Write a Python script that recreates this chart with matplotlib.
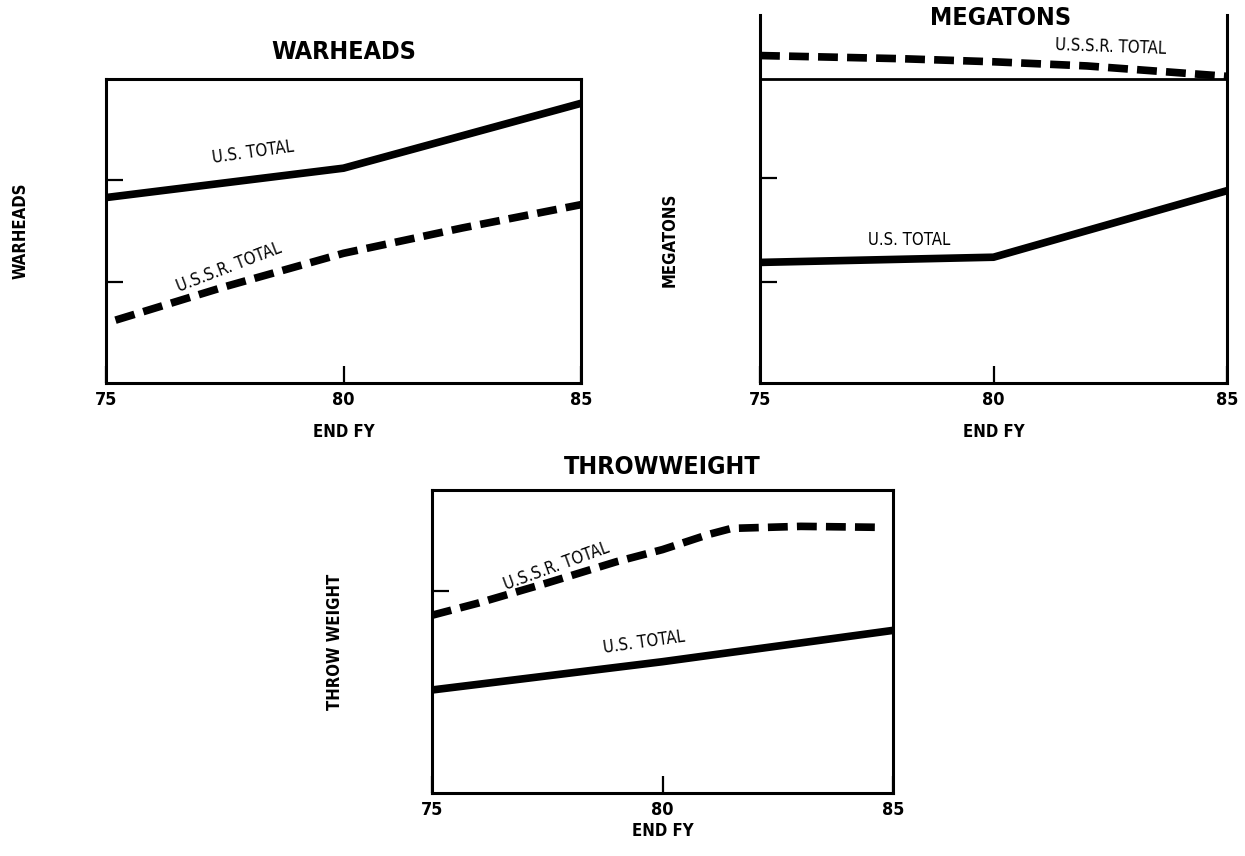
import matplotlib
matplotlib.use('Agg')
import numpy as np
import matplotlib.pyplot as plt

plt.rcParams['font.family'] = ['DejaVu Sans']
plt.rcParams['font.stretch'] = 'condensed'
plt.rcParams['font.weight'] = 'bold'

# end fiscal year
years = [75, 80, 85]

# warheads (relative units, ticks at 1 and 2)
wh_us_x = [75, 80, 85]
wh_us = [1.83, 2.12, 2.76]
wh_ussr_x = [75.2, 77.5, 80, 82.5, 85]
wh_ussr = [0.62, 0.95, 1.28, 1.53, 1.76]

# megatons
mt_us_x = [75, 80, 85]
mt_us = [1.19, 1.24, 1.88]
mt_ussr_x = [75, 78, 80, 82, 83.5, 85]
mt_ussr = [3.18, 3.15, 3.12, 3.08, 3.03, 2.98]
mt_ref = 2.95

# throwweight
tw_us_x = [75, 80, 85]
tw_us = [1.02, 1.30, 1.61]
tw_ussr_x = [75, 76, 77.5, 79, 80, 81, 81.5, 83, 84.8]
tw_ussr = [1.76, 1.88, 2.08, 2.29, 2.41, 2.56, 2.62, 2.64, 2.63]

W, H = 1245, 856
fig = plt.figure(figsize=(W / 100, H / 100), dpi=100)


def px_axes(x0, y0, x1, y1):
    return fig.add_axes([x0 / W, 1 - y1 / H, (x1 - x0) / W, (y1 - y0) / H])


def style(ax, ylim, yticks, ylabel):
    ax.set_xlim(75, 85)
    ax.set_ylim(*ylim)
    ax.set_xticks(years)
    ax.set_xticklabels([str(y) for y in years], fontsize=13, fontweight='bold')
    ax.set_yticks(yticks)
    ax.set_yticklabels([])
    ax.tick_params(axis='both', direction='in', length=12, width=1.6, pad=6)
    for s in ax.spines.values():
        s.set_linewidth(2.2)
    ax.set_xlabel('END FY', fontsize=12, fontweight='bold', labelpad=10)
    ax.set_ylabel(ylabel, fontsize=12, fontweight='bold')


def label(ax, x, y, s, rot):
    ax.text(x, y, s, rotation=rot, fontsize=12, ha='center', va='center',
            fontweight='normal', rotation_mode='anchor')


dash = (2.6, 1.2)
LW = 5.5

# WARHEADS
ax1 = px_axes(106, 79, 581, 383)
ax1.plot(wh_us_x, wh_us, color='black', lw=LW, solid_capstyle='butt', clip_on=False)
ax1.plot(wh_ussr_x, wh_ussr, color='black', lw=LW, dashes=dash, dash_capstyle='butt')
style(ax1, (0, 3), [1, 2], 'WARHEADS')
ax1.text(0.5, 1.09, 'WARHEADS', transform=ax1.transAxes, fontsize=18,
         fontweight='bold', ha='center', va='center')
ax1.yaxis.set_label_coords(-0.16, 0.5)
label(ax1, 78.1, 2.28, 'U.S. TOTAL', 8)
label(ax1, 77.6, 1.14, 'U.S.S.R. TOTAL', 21)

# MEGATONS
ax2 = px_axes(760, 15, 1227, 383)
ax2.plot(mt_us_x, mt_us, color='black', lw=LW, solid_capstyle='butt', clip_on=False)
ax2.plot(mt_ussr_x, mt_ussr, color='black', lw=LW, dashes=dash, dash_capstyle='butt')
ax2.axhline(mt_ref, color='black', lw=2)
style(ax2, (0.03, 3.57), [1, 2], 'MEGATONS')
ax2.spines['top'].set_visible(False)
ax2.text(0.515, 0.993, 'MEGATONS', transform=ax2.transAxes, fontsize=18,
         fontweight='bold', ha='center', va='center')
ax2.yaxis.set_label_coords(-0.175, 0.39)
label(ax2, 78.2, 1.41, 'U.S. TOTAL', 0)
label(ax2, 82.5, 3.26, 'U.S.S.R. TOTAL', -2)

# THROWWEIGHT
ax3 = px_axes(432, 490, 893, 793)
ax3.plot(tw_us_x, tw_us, color='black', lw=LW, solid_capstyle='butt', clip_on=False)
ax3.plot(tw_ussr_x, tw_ussr, color='black', lw=LW, dashes=dash, dash_capstyle='butt')
style(ax3, (0, 3), [2], 'THROW WEIGHT')
ax3.text(0.5, 1.075, 'THROWWEIGHT', transform=ax3.transAxes, fontsize=18,
         fontweight='bold', ha='center', va='center')
ax3.xaxis.labelpad = 2
ax3.yaxis.set_label_coords(-0.19, 0.5)
label(ax3, 77.7, 2.24, 'U.S.S.R. TOTAL', 20)
label(ax3, 79.6, 1.49, 'U.S. TOTAL', 8)

fig.savefig('out.png', dpi=100)
